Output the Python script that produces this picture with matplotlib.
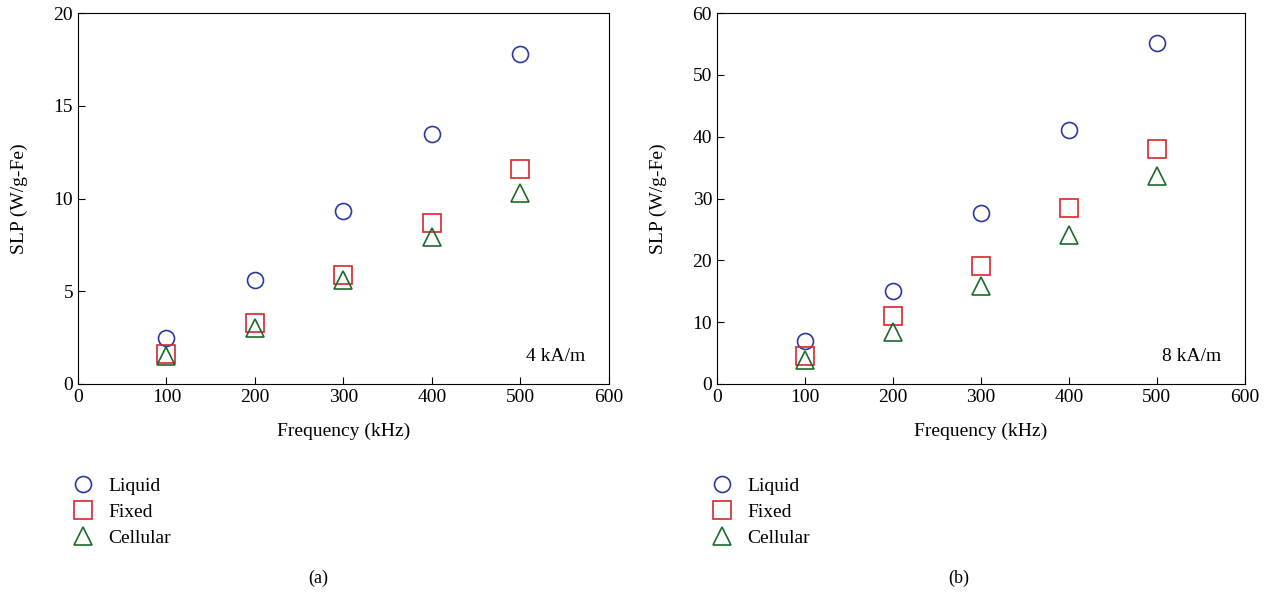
import matplotlib.pyplot as plt

plt.rcParams['font.family'] = ['Liberation Serif', 'DejaVu Serif']

freq = [100, 200, 300, 400, 500]

# (a) 4 kA/m
liquid_a = [2.5, 5.6, 9.3, 13.5, 17.8]
fixed_a = [1.6, 3.3, 5.9, 8.7, 11.6]
cellular_a = [1.5, 3.0, 5.6, 7.9, 10.3]

# (b) 8 kA/m
liquid_b = [7.0, 15.0, 27.7, 41.1, 55.2]
fixed_b = [4.5, 11.0, 19.0, 28.5, 38.0]
cellular_b = [3.9, 8.4, 15.9, 24.1, 33.6]

c_liq = "#2b3a9e"
c_fix = "#d8262e"
c_cel = "#1b6a2c"

fig = plt.figure(figsize=(12.78, 5.97), dpi=100)

def panel(rect, liq, fix, cel, ymax, step, field, caption, capx):
    ax = fig.add_axes(rect)
    ax.plot(freq, liq, "o", ms=11.5, mfc="none", mec=c_liq, mew=1.2, label="Liquid")
    ax.plot(freq, fix, "s", ms=12.5, mfc="none", mec=c_fix, mew=1.2, label="Fixed")
    ax.plot(freq, cel, "^", ms=12.5, mfc="none", mec=c_cel, mew=1.2, label="Cellular")
    ax.set_xlim(0, 600)
    ax.set_ylim(0, ymax)
    ax.set_xticks(range(0, 601, 100))
    ax.set_yticks(range(0, ymax + 1, step))
    ax.tick_params(direction="in", labelsize=14, length=5)
    ax.set_xlabel("Frequency (kHz)", fontsize=14)
    ax.set_ylabel("SLP (W/g-Fe)", fontsize=14)
    ax.xaxis.set_label_coords(0.5, -0.105)
    ax.yaxis.set_label_coords(-0.095, 0.5)
    ax.text(0.955, 0.062, field, transform=ax.transAxes, ha="right", fontsize=14)
    ax.legend(loc="upper left", bbox_to_anchor=(-0.035, -0.23), frameon=False,
              fontsize=14, handlelength=1.6, handletextpad=0.5,
              labelspacing=0.45, borderaxespad=0)
    fig.text(capx, 0.032, caption, ha="center", va="center", fontsize=13)
    return ax

panel([0.061, 0.357, 0.4155, 0.621], liquid_a, fixed_a, cellular_a, 20, 5, "4 kA/m", "(a)", 0.249)
panel([0.561, 0.357, 0.413, 0.621], liquid_b, fixed_b, cellular_b, 60, 10, "8 kA/m", "(b)", 0.75)

fig.savefig("out.png", dpi=100)
